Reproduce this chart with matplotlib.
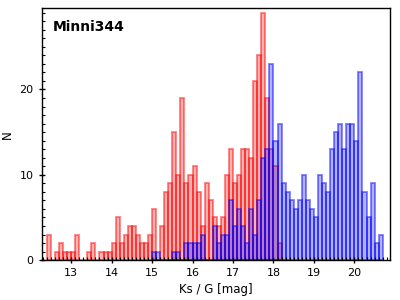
import numpy as np
import matplotlib
matplotlib.use("Agg")
import matplotlib.pyplot as plt
from matplotlib.ticker import MultipleLocator

# histogram counts, 0.1 mag bins
bin_width = 0.1
ks_start = 12.4
ks_counts = [3, 0, 1, 2, 1, 1, 1, 3, 0, 0,
             1, 2, 0, 1, 1, 1, 2, 5, 2, 3,
             4, 4, 3, 2, 2, 3, 6, 0, 4, 8,
             9, 15, 10, 19, 9, 10, 11, 8, 4, 9,
             7, 5, 4, 5, 10, 13, 9, 10, 13, 13,
             12, 21, 24, 29, 19, 13, 11, 2]
g_start = 15.0
g_counts = [1, 1, 0, 0, 0, 1, 1, 0, 2, 2,
            2, 2, 3, 0, 0, 4, 2, 3, 3, 7,
            4, 6, 4, 2, 6, 3, 7, 12, 13, 23,
            14, 16, 9, 8, 7, 6, 7, 10, 7, 6,
            5, 10, 9, 8, 13, 15, 16, 13, 16, 16,
            14, 22, 8, 5, 9, 2, 3]

ks_edges = ks_start + bin_width * np.arange(len(ks_counts))
g_edges = g_start + bin_width * np.arange(len(g_counts))

fig = plt.figure(figsize=(4, 3), dpi=100)
ax = fig.add_axes([0.105, 0.133, 0.87, 0.839])

ax.bar(ks_edges, ks_counts, width=bin_width, align="edge",
       facecolor=(1, 0, 0, 0.3), edgecolor=(1, 0, 0, 0.5), linewidth=1.3)
ax.bar(g_edges, g_counts, width=bin_width, align="edge",
       facecolor=(0, 0, 1, 0.3), edgecolor=(0, 0, 1, 0.5), linewidth=1.3)

ax.set_xlim(12.28, 20.88)
ax.set_ylim(0, 29.5)
ax.xaxis.set_major_locator(MultipleLocator(1))
ax.xaxis.set_minor_locator(MultipleLocator(0.1))
ax.yaxis.set_major_locator(MultipleLocator(10))
ax.yaxis.set_minor_locator(MultipleLocator(1))
ax.tick_params(which="major", direction="inout", length=5, width=1, labelsize=8)
ax.tick_params(which="minor", direction="in", length=2.5, width=0.8)
for s in ax.spines.values():
    s.set_linewidth(1)

ax.set_xlabel("Ks / G [mag]", fontsize=8.5, labelpad=3)
ax.set_ylabel("N", fontsize=8.5)
ax.text(0.03, 0.955, "Minni344", transform=ax.transAxes, fontsize=10,
        fontweight="bold", va="top", ha="left")

fig.savefig("out.png", dpi=100)
